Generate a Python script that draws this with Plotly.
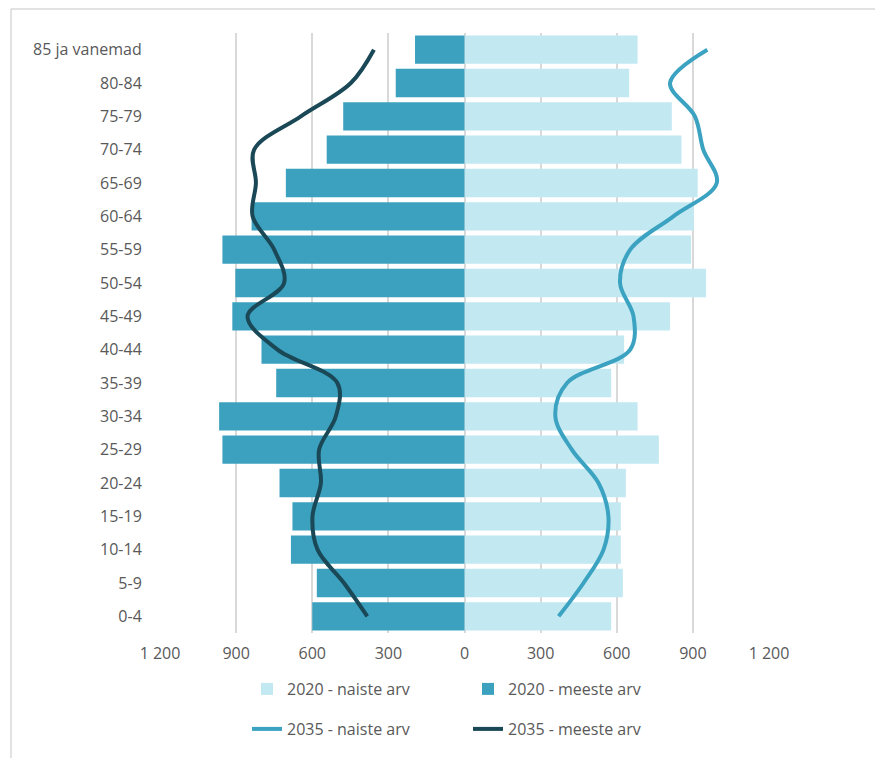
import plotly.graph_objects as go

categories = ["0-4", "5-9", "10-14", "15-19", "20-24", "25-29", "30-34", "35-39",
              "40-44", "45-49", "50-54", "55-59", "60-64", "65-69", "70-74",
              "75-79", "80-84", "85 ja vanemad"]

women_2020 = [578, 624, 616, 616, 636, 766, 682, 578, 629, 810, 952, 893, 904, 919, 855, 817, 649, 682]
men_2020 = [600, 582, 684, 678, 729, 954, 967, 742, 800, 915, 903, 954, 839, 704, 543, 478, 271, 195]
women_2035 = [371, 469, 548, 567, 528, 423, 358, 404, 653, 666, 613, 653, 823, 994, 941, 908, 810, 957]
men_2035 = [383, 475, 579, 599, 566, 573, 507, 501, 737, 855, 711, 750, 835, 822, 829, 645, 448, 357]

tick_values = [-1200, -900, -600, -300, 0, 300, 600, 900, 1200]
tick_labels = ["1 200", "900", "600", "300", "0", "300", "600", "900", "1 200"]

FONT = "Open Sans"
TXT = "#595959"
GRID = "#D9D9D9"
FS = 16

fig = go.Figure()
fig.add_trace(go.Bar(
    y=categories, x=women_2020, orientation="h", name="2020 - naiste arv",
    marker=dict(color="#C2E8F1", line=dict(width=0)), legend="legend"))
fig.add_trace(go.Bar(
    y=categories, x=[-v for v in men_2020], orientation="h", name="2020 - meeste arv",
    marker=dict(color="#3BA1BF", line=dict(width=0)), legend="legend"))
fig.add_trace(go.Scatter(
    y=categories, x=women_2035, mode="lines", name="2035 - naiste arv",
    line=dict(color="#3BA3C1", width=4, shape="spline", smoothing=1), legend="legend2"))
fig.add_trace(go.Scatter(
    y=categories, x=[-v for v in men_2035], mode="lines", name="2035 - meeste arv",
    line=dict(color="#1A4856", width=4, shape="spline", smoothing=1), legend="legend2"))

# page body has an 8px margin; figure coordinates = screen - 8
OFF = 8
W, H = 883 - OFF, 758 - OFF
L = 160 - OFF
T = 33 - OFF
R = W - (769 - OFF)
B = H - (633 - OFF)
PW, PH = W - L - R, H - T - B

def px2x(sx):
    return (sx - OFF - L) / PW

def py2y(sy):
    return (H - B - (sy - OFF)) / PH

legend_common = dict(orientation="h", xanchor="left", yanchor="middle",
                     font=dict(family=FONT, size=FS, color=TXT),
                     entrywidth=176, entrywidthmode="pixels",
                     bgcolor="rgba(0,0,0,0)", tracegroupgap=0, itemwidth=30)

fig.update_layout(
    width=W, height=H,
    margin=dict(l=L, r=R, t=T, b=B, autoexpand=False),
    paper_bgcolor="white", plot_bgcolor="white",
    barmode="overlay", bargap=0.15,
    font=dict(family=FONT, size=FS, color=TXT),
    xaxis=dict(range=[-1200, 1200], tickvals=tick_values, ticktext=tick_labels,
               showgrid=True, gridcolor=GRID, gridwidth=1.5, zeroline=True,
               zerolinecolor=GRID, zerolinewidth=1.5, showline=False,
               tickfont=dict(family=FONT, size=FS, color=TXT),
               ticks="outside", ticklen=6, tickcolor="rgba(0,0,0,0)", fixedrange=True),
    yaxis=dict(type="category", categoryorder="array", categoryarray=categories,
               range=[-0.5, len(categories) - 0.5], autorange=False,
               showgrid=False, zeroline=False, showline=False,
               tickfont=dict(family=FONT, size=FS, color=TXT),
               ticks="outside", ticklen=14, tickcolor="rgba(0,0,0,0)", fixedrange=True),
    legend=dict(x=px2x(247), y=py2y(689), **legend_common),
    legend2=dict(x=px2x(247), y=py2y(729), **legend_common),
    showlegend=True,
    shapes=[
        dict(type="line", xref="paper", yref="paper", x0=px2x(11), x1=px2x(883),
             y0=py2y(9), y1=py2y(9), line=dict(color=GRID, width=1.5)),
        dict(type="line", xref="paper", yref="paper", x0=px2x(11), x1=px2x(11),
             y0=py2y(9), y1=py2y(758), line=dict(color=GRID, width=1.5)),
    ],
)

fig.write_html("out.html")
